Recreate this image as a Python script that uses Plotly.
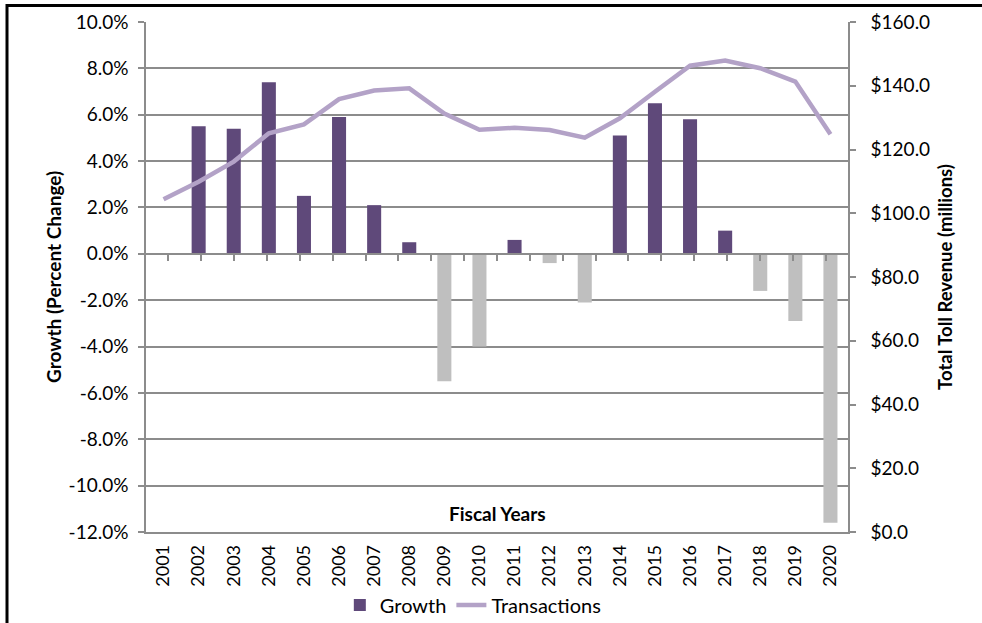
import plotly.graph_objects as go

# Fiscal years and series values
years = [str(y) for y in range(2001, 2021)]
growth_pct = [None, 5.5, 5.4, 7.4, 2.5, 5.9, 2.1, 0.5, -5.5, -4.0,
              0.6, -0.4, -2.1, 5.1, 6.5, 5.8, 1.0, -1.6, -2.9, -11.6]
toll_revenue = [104.4, 109.9, 116.2, 125.1, 127.9, 135.8, 138.5, 139.2, 131.3, 126.2,
                126.8, 126.1, 123.7, 129.8, 138.1, 146.3, 147.9, 145.5, 141.3, 124.8]

# Axis ticks and their labels
growth_ticks = [-12, -10, -8, -6, -4, -2, 0, 2, 4, 6, 8, 10]
growth_tick_labels = ["-12.0%", "-10.0%", "-8.0%", "-6.0%", "-4.0%", "-2.0%",
                      "0.0%", "2.0%", "4.0%", "6.0%", "8.0%", "10.0%"]
revenue_ticks = [0, 20, 40, 60, 80, 100, 120, 140, 160]
revenue_tick_labels = ["$0.0", "$20.0", "$40.0", "$60.0", "$80.0",
                       "$100.0", "$120.0", "$140.0", "$160.0"]

growth_range = [-12, 10]
revenue_range = [0, 160]

PURPLE = "#5F497A"
GREY_BAR = "#BFBFBF"
LINE = "#B3A2C7"
AXIS_GREY = "#8C8C8C"
FONT = "Lato"

bar_colors = [GREY_BAR if (v is not None and v < 0) else PURPLE for v in growth_pct]

fig = go.Figure()

fig.add_trace(go.Bar(
    x=years, y=growth_pct, name="Growth",
    marker=dict(color=bar_colors, line=dict(width=0)),
    xaxis="x", yaxis="y",
))

fig.add_trace(go.Scatter(
    x=years, y=toll_revenue, name="Transactions", mode="lines",
    line=dict(color=LINE, width=4.5),
    xaxis="x", yaxis="y2",
))

# invisible carrier for the category axis drawn along the zero line
fig.add_trace(go.Scatter(
    x=years, y=[0] * len(years), mode="markers",
    marker=dict(opacity=0), showlegend=False, hoverinfo="skip",
    xaxis="x3", yaxis="y",
))

# vertical position of the zero growth line within the plot area
zero_pos = (0 - growth_range[0]) / (growth_range[1] - growth_range[0])

tick_font = dict(family=FONT, size=19, color="#000000")
year_font = dict(family=FONT, size=18, color="#000000")
title_font = dict(family=FONT, size=19, color="#000000")

fig.update_layout(
    width=982, height=623,
    margin=dict(l=146, r=134, t=22, b=91),
    paper_bgcolor="white", plot_bgcolor="white",
    bargap=0.6, barmode="overlay",
    font=dict(family=FONT, color="#000000"),
    xaxis=dict(
        type="category", showgrid=False, showline=True,
        linecolor=AXIS_GREY, linewidth=1.5, ticks="",
        tickangle=-90, tickfont=year_font, ticklabelstandoff=4,
        automargin=False,
    ),
    xaxis3=dict(
        type="category", overlaying="x", anchor="free", position=zero_pos,
        showgrid=False, showline=True, linecolor=AXIS_GREY, linewidth=1.5,
        ticks="outside", tickson="boundaries", ticklen=6, tickcolor=AXIS_GREY,
        tickwidth=1.5, showticklabels=False, automargin=False,
    ),
    yaxis=dict(
        range=growth_range, tickmode="array",
        tickvals=growth_ticks, ticktext=growth_tick_labels,
        showgrid=True, gridcolor=AXIS_GREY, gridwidth=1.5, zeroline=False,
        showline=True, linecolor=AXIS_GREY, linewidth=1.5,
        ticks="outside", ticklen=6, tickcolor=AXIS_GREY, tickwidth=1.5,
        tickfont=tick_font, ticklabelstandoff=6, automargin=False,
    ),
    yaxis2=dict(
        range=revenue_range, tickmode="array",
        tickvals=revenue_ticks, ticktext=revenue_tick_labels,
        overlaying="y", side="right", anchor="x",
        showgrid=False, zeroline=False,
        showline=True, linecolor=AXIS_GREY, linewidth=1.5,
        ticks="outside", ticklen=6, tickcolor=AXIS_GREY, tickwidth=1.5,
        tickfont=tick_font, ticklabelstandoff=11, automargin=False,
    ),
    legend=dict(
        orientation="h", xref="container", yref="container",
        x=0.482, xanchor="center", y=(623 - 605) / 623, yanchor="middle",
        font=dict(family=FONT, size=20, color="#000000"),
        bgcolor="rgba(0,0,0,0)", itemwidth=30, tracegroupgap=0,
    ),
    annotations=[
        dict(text="<b>Growth (Percent Change)</b>", xref="paper", yref="paper",
             x=-0.1325, y=0.5, textangle=-90, showarrow=False,
             xanchor="center", yanchor="middle", font=title_font),
        dict(text="<b>Total Toll Revenue (millions)</b>", xref="paper", yref="paper",
             x=1.138, y=0.5, textangle=-90, showarrow=False,
             xanchor="center", yanchor="middle",
             font=dict(family=FONT, size=18.5, color="#000000")),
        dict(text="<b>Fiscal Years</b>", xref="paper", yref="paper",
             x=0.5, y=0.037, showarrow=False, xanchor="center", yanchor="middle",
             font=title_font),
    ],
    shapes=[
        dict(type="rect", xref="paper", yref="paper",
             x0=-0.198, x1=1.25, y0=-0.3, y1=1.0324,
             line=dict(color="#000000", width=3), fillcolor="rgba(0,0,0,0)",
             layer="above"),
    ],
)

fig.write_html("out.html")
